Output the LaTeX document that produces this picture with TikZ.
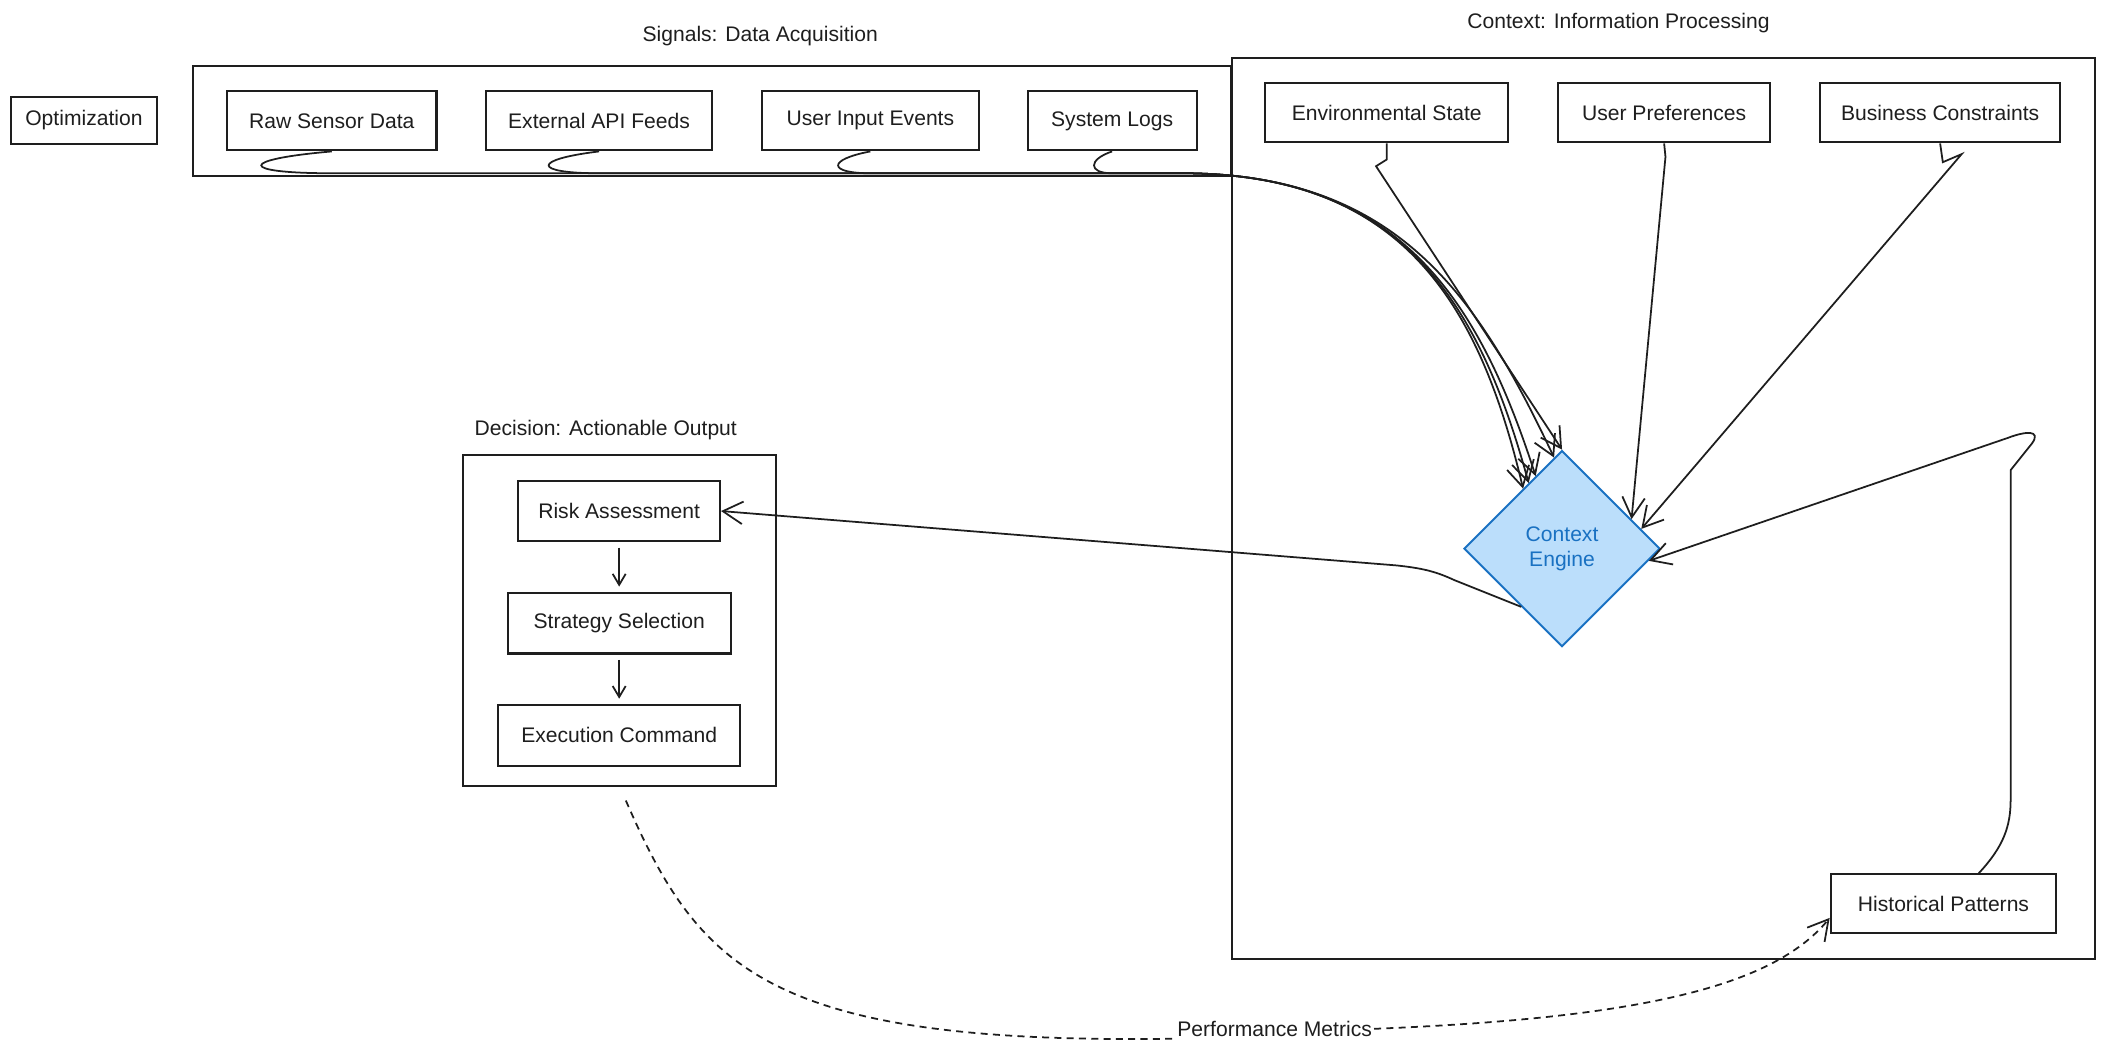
\documentclass[tikz,border=0pt]{standalone}
\usepackage{fontspec}
\setmainfont{Liberation Sans}
\usepackage{xcolor}
\usetikzlibrary{arrows.meta,shapes.geometric,positioning}

\definecolor{ink}{HTML}{1E1E1E}
\definecolor{enginefill}{HTML}{BBDEFB}
\definecolor{engineline}{HTML}{1971C2}

\tikzset{
  box/.style={draw=ink, line width=1.2pt, minimum height=1.18cm, inner sep=2pt, text=ink},
  group/.style={draw=ink, line width=1.1pt, inner sep=0pt},
  grouptitle/.style={text=ink},
  flow/.style={draw=ink, line width=1pt, -{Straight Barb[length=4mm,width=4.5mm]}},
  smallflow/.style={draw=ink, line width=1pt, -{Straight Barb[length=2.2mm,width=2.6mm]}},
  metric/.style={draw=ink, line width=1pt, dash pattern=on 4pt off 3pt},
  engine/.style={diamond, aspect=1, draw=engineline, fill=enginefill, line width=1.1pt,
    minimum width=3.92cm, minimum height=3.92cm, inner sep=0pt, text=engineline, align=center}
}

\begin{document}
\begin{tikzpicture}[x=0.02686cm, y=-0.02686cm, font=\fontsize{12}{14}\selectfont]
\useasboundingbox (0,0) rectangle (1568,783);

% groups
\node[group, minimum width=20.74cm, minimum height=2.2cm] (sigbox) at (530,90) {};
\node[group, minimum width=17.27cm, minimum height=18.02cm] (ctxbox) at (1238.5,378.5) {};
\node[group, minimum width=6.26cm, minimum height=6.61cm] (decbox) at (461.5,462) {};
\node[grouptitle] (sigtitle) at (566,27) {Signals: Data Acquisition};
\node[grouptitle] (ctxtitle) at (1205,17) {Context: Information Processing};
\node[grouptitle] (dectitle) at (451,320) {Decision: Actionable Output};

\node[box, minimum width=2.93cm, minimum height=0.94cm] (opt) at (62.5,89.5) {Optimization};

% signals
\node[box, minimum width=4.19cm] (rsd) at (247,90) {Raw Sensor Data};
\node[box, minimum width=4.51cm] (ext) at (446,90) {External API Feeds};
\node[box, minimum width=4.35cm] (uie) at (648,90) {User Input Events};
\node[box, minimum width=3.38cm] (slg) at (828,90) {System Logs};

% context
\node[box, minimum width=4.86cm] (env) at (1032.5,84) {Environmental State};
\node[box, minimum width=4.24cm] (upr) at (1239,84) {User Preferences};
\node[box, minimum width=4.81cm] (bco) at (1444.5,84) {Business Constraints};
\node[engine] (cen) at (1163,408.5) {Context\\Engine};
\node[box, minimum width=4.51cm] (hist) at (1447,673) {Historical Patterns};

% decision
\node[box, minimum width=4.03cm, minimum height=1.21cm] (risk) at (461,380.5) {Risk Assessment};
\node[box, minimum width=4.46cm, minimum height=1.21cm, below=0.99cm of risk] (strat) {Strategy Selection};
\node[box, minimum width=4.83cm, minimum height=1.21cm, below=0.99cm of strat] (exe) {Execution Command};

\node[text=ink, inner sep=1pt] (pmet) at (949,766) {Performance Metrics};

\coordinate (bus) at (0,129);

% signals into the engine
\foreach \src/\hook/\ang in {rsd/-70/123, ext/-50/117, uie/-32/110, slg/-18/95} {
  \draw[flow] (\src.south) .. controls +(\hook,6) and +(\hook,0) .. (\src.south |- bus)
    -- (880,129) .. controls (1040,129) and (1100,220) .. (cen.\ang);
}

\draw[flow] (env.south) -- ++(0,12) -- ++(-8,5) -- (cen.north);
\draw[flow] (upr.south) -- ++(1,10) -- (cen.23);
\draw[flow] (bco.south) -- ++(2,14) -- ++(14,-6) -- (cen.14);
\draw[flow] (hist.41) .. controls (1492,630) and (1497,615) .. (1497,595) -- (1497,350)
  -- (1513,330) .. controls (1520,320) and (1508,321) .. (1495,326) -- (cen.-8);

\draw[flow] (cen.235) -- (1083,432) .. controls (1068,425) and (1058,423) .. (1040,421) -- (risk.east);
\draw[smallflow, shorten <=3pt, shorten >=3pt] (risk.south) -- (strat.north);
\draw[smallflow, shorten <=3pt, shorten >=3pt] (strat.south) -- (exe.north);

% feedback
\draw[metric, shorten <=0.3cm] (decbox.south) .. controls (520,720) and (570,778) .. (pmet.south west);
\draw[metric, -{Straight Barb[length=4mm,width=4.5mm]}] (pmet.east) .. controls (1220,758) and (1320,735) .. (hist.187);
\end{tikzpicture}
\end{document}
